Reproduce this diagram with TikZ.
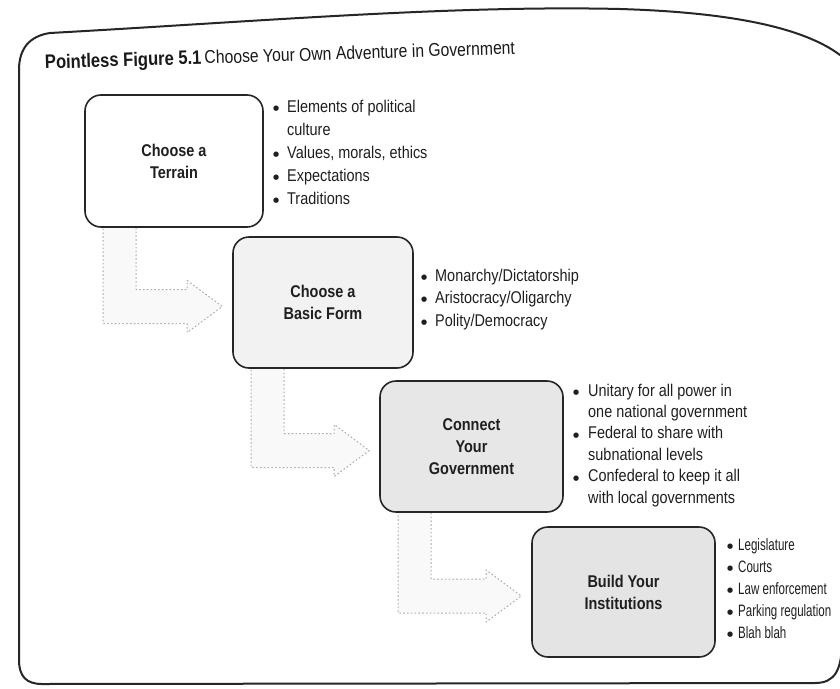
\documentclass[tikz,border=0pt]{standalone}
\usepackage{fontspec}
\setmainfont{Liberation Sans}[FakeStretch=0.85]
\newfontfamily\narrowfont{Liberation Sans}[FakeStretch=0.70]
\newfontfamily\dotfont{DejaVu Sans}
\usetikzlibrary{calc,backgrounds}
\newcommand\dotglyph{\raisebox{1.6pt}{\dotfont\fontsize{7}{7}\selectfont ●}}
\newcommand\bul{\makebox[14pt][l]{\dotglyph}}
\newcommand\bulc{\makebox[15pt][l]{\dotglyph}}
\newcommand\bulb{\makebox[11pt][l]{\dotglyph}}
\newcommand\bentarrow[2]{%
  \begin{pgfonlayer}{background}
  \draw[arrowline] ($(#1.south west)+(52,0)$) |- ($(#2.west)+(-45,-13)$)
    -- ($(#2.west)+(-45,-22)$) -- ($(#2.west)+(-10,4)$)
    -- ($(#2.west)+(-45,30)$) -- ($(#2.west)+(-45,21)$)
    -| ($(#1.south west)+(19,0)$);
  \end{pgfonlayer}}
\begin{document}
\begin{tikzpicture}[x=1pt,y=-1pt,
  stepbox/.style={draw=black!85, line width=1.6pt, rounded corners=16pt,
    inner sep=0pt, align=center, text=black!88,
    font={\fontsize{17}{22}\selectfont\bfseries}},
  bulletlist/.style={anchor=north west, inner sep=0pt, align=left, text=black!88,
    font={\fontsize{17}{23}\selectfont}},
  arrowline/.style={draw=gray!65, line width=1pt, dash pattern=on 1.6pt off 2.2pt,
    fill=gray!5, line join=round},
  frameline/.style={draw=black!85, line width=2pt, line cap=round}]
\useasboundingbox (0,0) rectangle (840,688);
% page frame
\draw[frameline] (19,70) .. controls (19,48) and (30,36) .. (50,33)
  .. controls (250,22) and (450,5) .. (620,9)
  .. controls (720,12) and (800,25) .. (840,55) -- (842,55) -- (842,640)
  .. controls (842,670) and (835,683) .. (815,683)
  -- (42,684) .. controls (26,684) and (19,676) .. (19,660) -- cycle;
% title
\node[anchor=base west, inner sep=0pt, rotate=1.8, text=black!90] (title) at (45,69)
  {{\fontsize{19.5}{22}\selectfont\bfseries Pointless Figure 5.1}\hspace{3pt}{\fontsize{18.5}{22}\selectfont Choose Your Own Adventure in Government}};
% boxes
\node[stepbox, fill=white, minimum width=178pt, minimum height=132pt] (b1) at (174,161) {Choose a\\Terrain};
\node[stepbox, fill=gray!10, minimum width=180pt, minimum height=131pt] (b2) at (323,302.5) {Choose a\\Basic Form};
\node[stepbox, fill=gray!19, minimum width=183pt, minimum height=131pt] (b3) at (471.5,446.5) {Connect\\Your\\Government};
\node[stepbox, fill=gray!21, minimum width=183pt, minimum height=130pt] (b4) at (623.5,592) {Build Your\\Institutions};
% bullet lists
\node[bulletlist] (l1) at (273,99.5) {\bul Elements of political\\\hspace*{14pt}culture\\\bul Values, morals, ethics\\\bul Expectations\\\bul Traditions};
\node[bulletlist, font={\fontsize{17}{22.5}\selectfont}] (l2) at (421,268.5) {\bul Monarchy/Dictatorship\\\bul Aristocracy/Oligarchy\\\bul Polity/Democracy};
\node[bulletlist, font={\fontsize{17}{21.4}\selectfont}] (l3) at (573,383.5) {\bulc Unitary for all power in\\\hspace*{15pt}one national government\\\bulc Federal to share with\\\hspace*{15pt}subnational levels\\\bulc Confederal to keep it all\\\hspace*{15pt}with local governments};
\node[bulletlist, font={\narrowfont\fontsize{16.5}{22}\selectfont}] (l4) at (727,538) {\bulb Legislature\\\bulb Courts\\\bulb Law enforcement\\\bulb Parking regulation\\\bulb Blah blah};
% bent arrows
\bentarrow{b1}{b2}
\bentarrow{b2}{b3}
\bentarrow{b3}{b4}
\end{tikzpicture}
\end{document}
